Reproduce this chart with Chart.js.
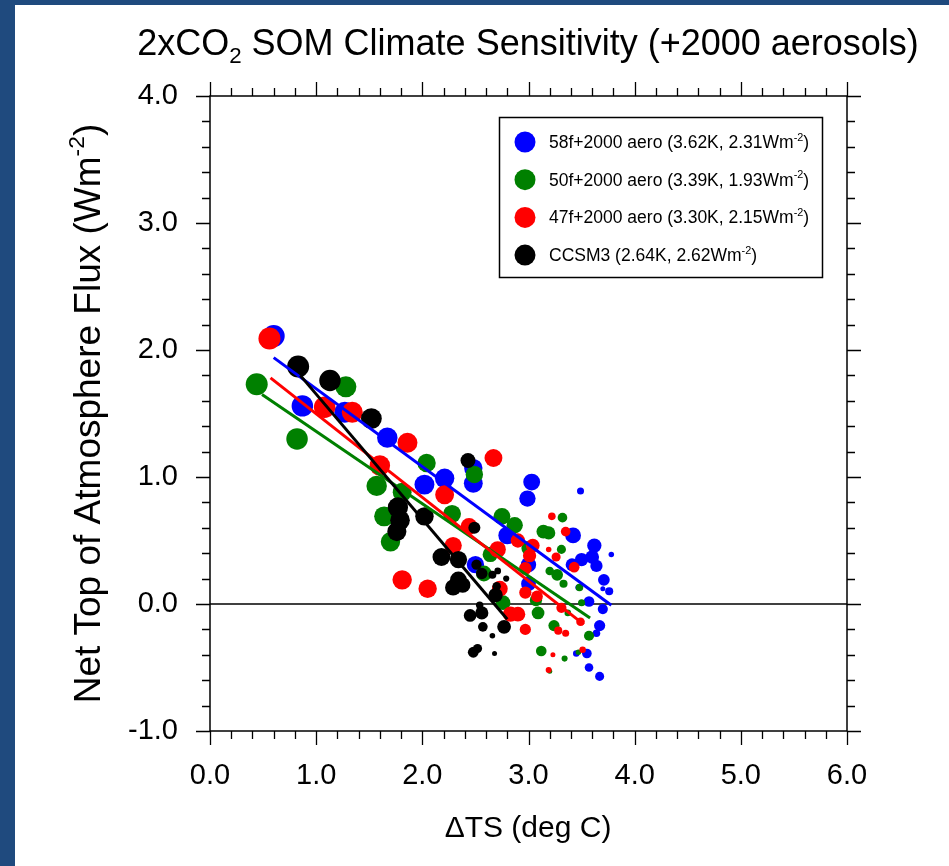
<!DOCTYPE html>
<html><head><meta charset="utf-8">
<style>html,body{margin:0;padding:0;background:#fff;overflow:hidden}
#wrap{position:absolute;left:0;top:0;width:949px;height:866px}</style>
<script src="https://cdn.jsdelivr.net/npm/chart.js@4.4.1/dist/chart.umd.min.js"></script>
</head><body><div id="wrap"><canvas id="c" width="949" height="866"></canvas></div>
<script>
// ---- data ----
const xTicks = [0, 1, 2, 3, 4, 5, 6];
const yTicks = [-1, 0, 1, 2, 3, 4];
const seriesNames = ['58f+2000 aero', '50f+2000 aero', '47f+2000 aero', 'CCSM3'];
const sensK = [3.62, 3.39, 3.30, 2.64];
const forcing = [2.31, 1.93, 2.15, 2.62];

const blueX = [0.60,0.87,1.27,1.67,2.02,2.21,2.48,2.48,2.80,2.50,3.03,2.99,3.42,3.00,3.00,3.62,3.60,3.50,3.41,3.64,3.71,3.67,3.57,3.70,3.55,3.67,3.57,3.76,3.64,3.49,3.45,3.47,3.78,3.70];
const blueY = [2.11,1.56,1.51,1.31,0.94,0.99,0.95,1.07,0.54,0.31,0.96,0.83,0.54,0.31,0.16,0.46,0.37,0.35,0.31,0.30,0.19,-0.17,0.02,-0.04,-0.39,-0.57,-0.50,0.10,-0.23,0.89,-0.39,0.13,0.39,0.12];
const greenX = [0.44,0.82,1.28,1.57,1.64,1.70,1.81,2.04,2.28,2.49,2.75,2.87,2.58,2.64,2.76,3.00,3.14,3.19,3.09,3.07,3.27,3.24,3.12,3.57,3.32,3.31,3.20,3.33,3.48,3.50,3.37,3.34,3.47,3.20];
const greenY = [1.73,1.30,1.71,0.93,0.69,0.49,0.88,1.11,0.71,1.02,0.69,0.62,0.24,0.39,0.01,0.44,0.57,0.56,-0.07,0.03,0.23,-0.17,-0.37,-0.25,0.68,0.43,0.26,0.16,0.13,0.01,-0.07,-0.43,-0.38,-0.53];
const redX = [0.56,1.08,1.34,1.60,1.86,1.81,2.21,2.05,2.67,2.29,2.44,2.71,2.73,2.83,2.90,2.90,3.04,3.01,2.97,2.97,3.08,2.97,3.43,3.31,3.35,3.26,3.49,3.28,3.22,3.35,3.51,3.19,3.19,3.23];
const redY = [2.09,1.55,1.51,1.09,1.27,0.19,0.86,0.12,1.15,0.46,0.61,0.43,0.12,-0.08,-0.08,0.50,0.46,0.38,0.28,0.09,0.06,-0.20,0.29,-0.03,0.57,0.37,-0.14,-0.21,0.69,-0.23,-0.36,-0.52,0.43,-0.40];
const blackX = [0.83,1.13,1.52,1.77,1.79,1.76,2.02,2.18,2.34,2.34,2.29,2.38,2.43,2.69,2.77,2.56,2.45,2.49,2.56,2.48,2.51,2.57,2.52,2.70,2.66,2.54,2.71,2.79,2.66,2.68];
const blackY = [1.87,1.76,1.46,0.76,0.66,0.57,0.69,0.37,0.35,0.19,0.13,0.15,1.13,0.07,-0.18,-0.07,-0.09,0.60,0.24,-0.38,0.31,-0.18,-0.35,0.14,0.23,-0.01,0.26,0.20,-0.25,-0.39];

// regression lines (end points)
const fitBlueX = [0.60, 3.78], fitBlueY = [1.94, -0.01];
const fitGreenX = [0.49, 3.58], fitGreenY = [1.65, -0.11];
const fitRedX = [0.57, 3.52], fitRedY = [1.78, -0.16];
const fitBlackX = [0.85, 2.80], fitBlackY = [1.80, -0.12];

// ---- styles ----
const COLORS = ['#0000ff', '#008000', '#ff0000', '#000000'];
const FONT = '"Liberation Sans", Arial, Helvetica, sans-serif';
const BORDER = '#1f4a7e';

const pts = (xs, ys) => xs.map((x, i) => ({x: x, y: ys[i]}));
const radiusFn = (ctx) => {
  const n = ctx.dataset.data.length;
  return 11 - 8.5 * ctx.dataIndex / (n - 1);
};
function scatterDs(label, xs, ys, color, order) {
  return {type: 'scatter', label, data: pts(xs, ys), backgroundColor: color, borderWidth: 0,
    pointRadius: radiusFn, pointHoverRadius: radiusFn, order};
}
function lineDs(label, xs, ys, color, order, w) {
  return {type: 'line', label, data: pts(xs, ys), borderColor: color, borderWidth: w, pointRadius: 0,
    fill: false, tension: 0, order};
}

function drawRich(ctx, parts, x, y, size, align) {
  // parts: [text, mode] mode: 0 normal, 1 sub, 2 sup
  const small = size * 0.62;
  let total = 0;
  const widths = parts.map(p => { ctx.font = (p[1] ? small : size) + 'px ' + FONT; const w = ctx.measureText(p[0]).width; total += w; return w; });
  let cx = align === 'center' ? x - total / 2 : (align === 'right' ? x - total : x);
  ctx.textAlign = 'left'; ctx.textBaseline = 'alphabetic';
  parts.forEach((p, i) => {
    ctx.font = (p[1] ? small : size) + 'px ' + FONT;
    let dy = 0;
    if (p[1] === 1) dy = size * 0.22;
    if (p[1] === 2) dy = -size * 0.42;
    ctx.fillText(p[0], cx, y + dy);
    cx += widths[i];
  });
}

const decor = {
  id: 'decor',
  beforeDraw(chart) {
    const c = chart.ctx;
    c.save();
    c.fillStyle = '#fff'; c.fillRect(0, 0, chart.width, chart.height);
    c.fillStyle = BORDER; c.fillRect(0, 0, 15, chart.height); c.fillRect(0, 0, chart.width, 5);
    c.restore();
  },
  afterDraw(chart) {
    const c = chart.ctx, a = chart.chartArea, xs = chart.scales.x, ys = chart.scales.y;
    c.save();
    c.strokeStyle = '#000'; c.lineWidth = 1.5;
    c.strokeRect(a.left, a.top, a.right - a.left, a.bottom - a.top);
    c.lineWidth = 1.3;
    c.beginPath();
    for (let v = 0; v <= 30; v++) {
      const val = v / 5, px = Math.round(xs.getPixelForValue(val)) + 0.5;
      const L = (v % 5 === 0) ? 14 : 8;
      c.moveTo(px, a.bottom); c.lineTo(px, a.bottom + L);
      c.moveTo(px, a.top); c.lineTo(px, a.top - L);
    }
    for (let v = -5; v <= 20; v++) {
      const val = v / 5, py = Math.round(ys.getPixelForValue(val)) + 0.5;
      const L = (v % 5 === 0) ? 14 : 8;
      c.moveTo(a.left, py); c.lineTo(a.left - L, py);
      c.moveTo(a.right, py); c.lineTo(a.right + L, py);
    }
    c.stroke();
    c.fillStyle = '#000';
    // title
    drawRich(c, [['2xCO', 0], ['2', 1], [' SOM Climate Sensitivity (+2000 aerosols)', 0]], 528, 55, 36, 'center');
    // x title
    drawRich(c, [['\u0394TS (deg C)', 0]], 528, 837, 30, 'center');
    // y title
    c.save();
    c.translate(100, (a.top + a.bottom) / 2);
    c.rotate(-Math.PI / 2);
    drawRich(c, [['Net Top of Atmosphere Flux (Wm', 0], ['-2', 2], [')', 0]], 0, 0, 37, 'center');
    c.restore();
    // legend
    const lx = 499, ly = 117, lw = 323, lh = 160;
    c.lineWidth = 1.5; c.strokeStyle = '#000';
    c.strokeRect(lx + 0.5, ly + 0.5, lw, lh);
    seriesNames.forEach((nm, i) => {
      const cy = 142 + 37.7 * i;
      c.fillStyle = COLORS[i];
      c.beginPath(); c.arc(525, cy, 10.5, 0, Math.PI * 2); c.fill();
      c.fillStyle = '#000';
      drawRich(c, [[nm + ' (' + sensK[i].toFixed(2) + 'K, ' + forcing[i].toFixed(2) + 'Wm', 0], ['-2', 2], [')', 0]], 549, cy + 6, 17.5, 'left');
    });
    c.restore();
  }
};

const tickFont = {family: FONT, size: 29};
new Chart(document.getElementById('c'), {
  data: {
    datasets: [
      lineDs('zero', [0, 6], [0, 0], '#000', 20, 1.5),
      scatterDs(seriesNames[0], blueX, blueY, COLORS[0], 19),
      scatterDs(seriesNames[1], greenX, greenY, COLORS[1], 18),
      scatterDs(seriesNames[2], redX, redY, COLORS[2], 17),
      scatterDs(seriesNames[3], blackX, blackY, COLORS[3], 16),
      lineDs('fit ' + seriesNames[0], fitBlueX, fitBlueY, COLORS[0], 4, 3),
      lineDs('fit ' + seriesNames[1], fitGreenX, fitGreenY, COLORS[1], 3, 3),
      lineDs('fit ' + seriesNames[2], fitRedX, fitRedY, COLORS[2], 2, 3),
      lineDs('fit ' + seriesNames[3], fitBlackX, fitBlackY, COLORS[3], 1, 3)
    ]
  },
  options: {
    responsive: false, animation: false, devicePixelRatio: 1,
    layout: {padding: {top: 96, right: 102, left: 0, bottom: 0}},
    plugins: {legend: {display: false}, tooltip: {enabled: false}},
    scales: {
      x: {type: 'linear', min: 0, max: 6, afterFit(s) { s.height = 135; },
        grid: {display: false, drawTicks: false}, border: {display: false},
        afterBuildTicks(s) { s.ticks = xTicks.map(v => ({value: v})); },
        ticks: {padding: 28, font: tickFont, color: '#000', callback: v => v.toFixed(1)}},
      y: {type: 'linear', min: -1, max: 4, afterFit(s) { s.width = 210; },
        grid: {display: false, drawTicks: false}, border: {display: false},
        afterBuildTicks(s) { s.ticks = yTicks.map(v => ({value: v})); },
        ticks: {padding: 32, font: tickFont, color: '#000', callback: v => v.toFixed(1)}}
    }
  },
  plugins: [decor]
});
</script></body></html>
